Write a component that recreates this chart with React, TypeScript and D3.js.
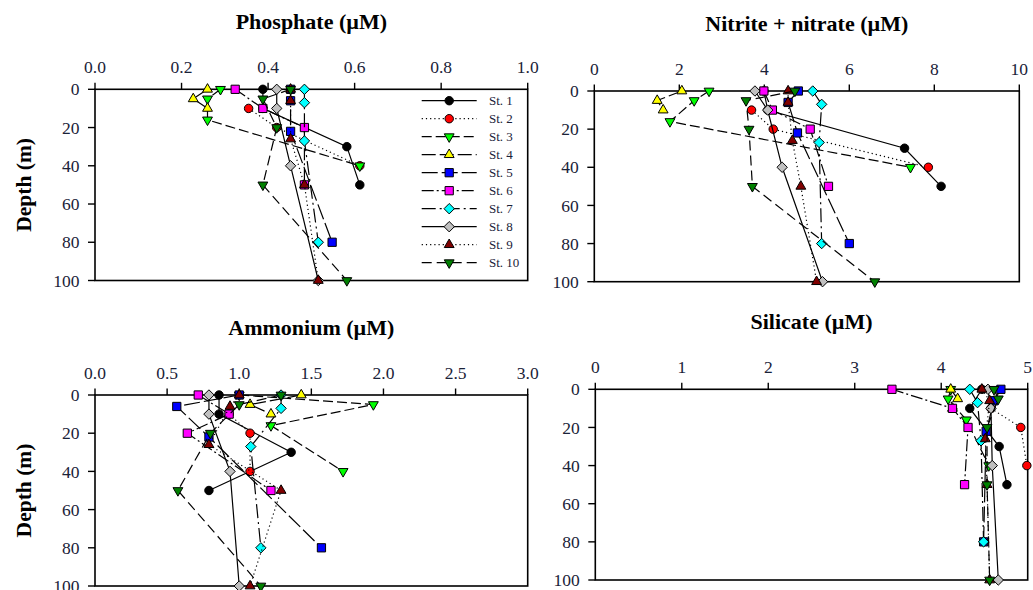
import React from "react";
import * as d3 from "d3";

// Stations and sampling depths (m)
const stations = ["St. 1", "St. 2", "St. 3", "St. 4", "St. 5", "St. 6", "St. 7", "St. 8", "St. 9", "St. 10"];
const stationDepths: number[][] = [
  [0, 10, 30, 50],
  [10, 20, 40],
  [0, 5, 16, 40],
  [0, 5, 10],
  [0, 6, 22, 80],
  [0, 10, 20, 50],
  [0, 7, 27, 80],
  [0, 10, 40, 100],
  [0, 6, 26, 50, 100],
  [0, 5, 20, 50, 100],
];

// Concentrations (µM), one row per station, aligned with stationDepths
const phosphate: number[][] = [
  [0.388, 0.388, 0.582, 0.612],
  [0.355, 0.42, 0.612],
  [0.29, 0.26, 0.26, 0.612],
  [0.26, 0.227, 0.26],
  [0.452, 0.452, 0.452, 0.548],
  [0.324, 0.388, 0.484, 0.484],
  [0.484, 0.484, 0.484, 0.516],
  [0.42, 0.42, 0.452, 0.516],
  [0.452, 0.452, 0.452, 0.484, 0.516],
  [0.452, 0.388, 0.42, 0.388, 0.582],
];
const nitrate: number[][] = [
  [3.99, 4.08, 7.3, 8.16],
  [3.7, 4.21, 7.86],
  [2.7, 2.35, 1.78, 7.44],
  [2.06, 1.48, 1.62],
  [4.8, 4.56, 4.78, 6.0],
  [3.99, 4.19, 5.08, 5.51],
  [5.14, 5.35, 5.29, 5.35],
  [3.78, 4.08, 4.42, 5.37],
  [4.56, 4.56, 4.66, 4.86, 5.23],
  [4.72, 3.57, 3.64, 3.72, 6.6],
];
const ammonium: number[][] = [
  [0.86, 0.86, 1.36, 0.79],
  [0.93, 1.075, 1.075],
  [1.0, 1.93, 1.22, 1.72],
  [1.43, 1.075, 1.22],
  [1.0, 0.567, 0.79, 1.57],
  [0.716, 0.93, 0.64, 1.22],
  [1.29, 1.29, 1.08, 1.15],
  [0.79, 0.79, 0.936, 1.0],
  [1.0, 0.936, 0.79, 1.29, 1.075],
  [1.29, 1.0, 0.8, 0.575, 1.15],
];
const silicate: number[][] = [
  [4.47, 4.33, 4.67, 4.76],
  [4.575, 4.92, 4.99],
  [4.11, 4.08, 4.29, 4.55],
  [4.11, 4.19, 4.13],
  [4.69, 4.61, 4.52, 4.49],
  [3.43, 4.13, 4.31, 4.27],
  [4.33, 4.42, 4.46, 4.49],
  [4.54, 4.575, 4.59, 4.66],
  [4.47, 4.56, 4.51, 4.53, 4.56],
  [4.61, 4.66, 4.53, 4.53, 4.56],
];

// Axis ticks
const depthTicks = [0, 20, 40, 60, 80, 100];
const phosphateTicks = [0, 0.2, 0.4, 0.6, 0.8, 1.0];
const nitrateTicks = [0, 2, 4, 6, 8, 10];
const ammoniumTicks = [0, 0.5, 1.0, 1.5, 2.0, 2.5, 3.0];
const silicateTicks = [0, 1, 2, 3, 4, 5];

// Series styling
const fills = ["#000000", "#ff0000", "#00ff00", "#ffff00", "#0000ff", "#ff00ff", "#00ffff", "#c0c0c0", "#800000", "#008000"];
const shapes = ["circle", "circle", "down", "up", "square", "square", "diamond", "diamond", "up", "down"];
const dashes: (string | undefined)[] = [undefined, "1.2,3", "10,4", "14,4", "16,4", "12,3,2,3", "14,4,2,4", undefined, "1.2,3", "10,5"];

const SERIF = "'Liberation Serif', 'Times New Roman', Times, serif";
const TEXT = "#1a2238";

type Panel = {
  title: string;
  values: number[][];
  ticks: number[];
  fmt: (v: number) => string;
  x0: number; x1: number; y0: number; y1: number;
  depthLabel: boolean;
};

const panels: Panel[] = [
  { title: "Phosphate (\u00b5M)", values: phosphate, ticks: phosphateTicks, fmt: d3.format(".1f"), x0: 95, x1: 527.7, y0: 89.3, y1: 280.5, depthLabel: true },
  { title: "Nitrite + nitrate (\u00b5M)", values: nitrate, ticks: nitrateTicks, fmt: d3.format("d"), x0: 594.3, x1: 1019.3, y0: 91, y1: 281.7, depthLabel: false },
  { title: "Ammonium (\u00b5M)", values: ammonium, ticks: ammoniumTicks, fmt: d3.format(".1f"), x0: 95, x1: 527.7, y0: 395, y1: 586, depthLabel: true },
  { title: "Silicate (\u00b5M)", values: silicate, ticks: silicateTicks, fmt: d3.format("d"), x0: 595.3, x1: 1027.7, y0: 389.3, y1: 580, depthLabel: false },
];

const circlePath = d3.symbol(d3.symbolCircle, 56)() as string;
const squarePath = d3.symbol(d3.symbolSquare, 68)() as string;
const trianglePath = d3.symbol(d3.symbolTriangle, 42)() as string;
const diamondPath = "M0,-5.2L5.2,0L0,5.2L-5.2,0Z";

function Marker({ shape, fill, x, y }: { shape: string; fill: string; x: number; y: number }) {
  let d = circlePath;
  let rot = 0;
  if (shape === "square") d = squarePath;
  else if (shape === "diamond") d = diamondPath;
  else if (shape === "up") d = trianglePath;
  else if (shape === "down") { d = trianglePath; rot = 180; }
  return (
    <path
      d={d}
      transform={`translate(${x},${y})${rot ? ` rotate(${rot})` : ""}`}
      fill={fill}
      stroke="#000"
      strokeWidth={1}
    />
  );
}

function ProfilePanel({ p }: { p: Panel }) {
  const xMax = p.ticks[p.ticks.length - 1];
  const x = d3.scaleLinear().domain([0, xMax]).range([p.x0, p.x1]);
  const y = d3.scaleLinear().domain([0, 100]).range([p.y0, p.y1]);
  const line = d3.line<[number, number]>().x((d) => x(d[0])).y((d) => y(d[1]));
  const cx = (p.x0 + p.x1) / 2;
  return (
    <g>
      <text x={cx} y={p.y0 - 60} textAnchor="middle" fontFamily={SERIF} fontWeight="bold" fontSize={22} fill="#000">
        {p.title}
      </text>
      {p.depthLabel && (
        <text
          transform={`translate(24,${(p.y0 + p.y1) / 2}) rotate(-90)`}
          textAnchor="middle"
          dominantBaseline="central"
          fontFamily={SERIF}
          fontWeight="bold"
          fontSize={21.5}
          fill="#000"
        >
          Depth (m)
        </text>
      )}
      {/* top value axis */}
      {p.ticks.map((t) => (
        <g key={`xt${t}`}>
          <line x1={x(t)} x2={x(t)} y1={p.y0} y2={p.y0 - 6.5} stroke="#000" strokeWidth={1.4} />
          <text x={x(t)} y={p.y0 - 16} textAnchor="middle" fontFamily={SERIF} fontSize={17.5} fill={TEXT}>
            {p.fmt(t)}
          </text>
        </g>
      ))}
      {/* depth axis */}
      {depthTicks.map((t) => (
        <g key={`yt${t}`}>
          <line x1={p.x0} x2={p.x0 - 7} y1={y(t)} y2={y(t)} stroke="#000" strokeWidth={1.4} />
          <text x={p.x0 - 15.5} y={y(t)} dy="0.35em" textAnchor="end" fontFamily={SERIF} fontSize={17.5} fill={TEXT}>
            {t}
          </text>
        </g>
      ))}
      <rect x={p.x0} y={p.y0} width={p.x1 - p.x0} height={p.y1 - p.y0} fill="none" stroke="#000" strokeWidth={1.6} />
      {stations.map((s, i) => {
        const pts: [number, number][] = p.values[i].map((v, j) => [v, stationDepths[i][j]]);
        return (
          <g key={s}>
            <path d={line(pts) as string} fill="none" stroke="#000" strokeWidth={1.2} strokeDasharray={dashes[i]} />
            {pts.map((d, j) => (
              <Marker key={j} shape={shapes[i]} fill={fills[i]} x={x(d[0])} y={y(d[1])} />
            ))}
          </g>
        );
      })}
    </g>
  );
}

function Legend() {
  const lx0 = 421.7;
  const lx1 = 476.7;
  const rowY = d3.scaleLinear().domain([0, stations.length - 1]).range([100.7, 262.7]);
  return (
    <g>
      {stations.map((s, i) => {
        const yy = rowY(i);
        return (
          <g key={s}>
            <line x1={lx0} x2={lx1} y1={yy} y2={yy} stroke="#000" strokeWidth={1.2} strokeDasharray={dashes[i]} />
            <Marker shape={shapes[i]} fill={fills[i]} x={(lx0 + lx1) / 2} y={yy} />
            <text x={489} y={yy} dy="0.35em" fontFamily={SERIF} fontSize={13} fill={TEXT}>
              {s}
            </text>
          </g>
        );
      })}
    </g>
  );
}

export default function App() {
  return (
    <svg
      width={1033}
      height={590}
      viewBox="0 0 1033 590"
      style={{ position: "absolute", left: 0, top: 0, background: "#fff" }}
    >
      <rect width={1033} height={590} fill="#fff" />
      {panels.map((p) => (
        <ProfilePanel key={p.title} p={p} />
      ))}
      <Legend />
    </svg>
  );
}
